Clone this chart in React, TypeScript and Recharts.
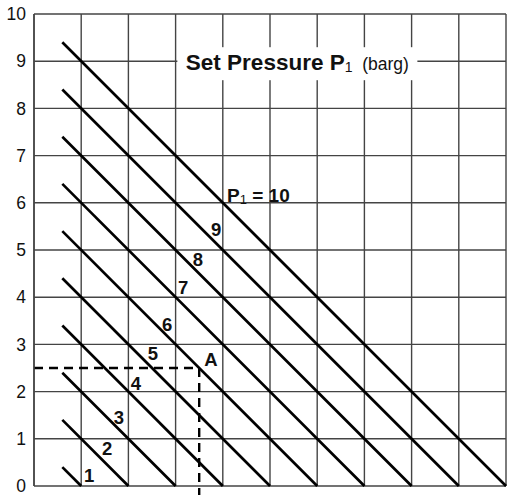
import {
  CartesianGrid,
  ComposedChart,
  Line,
  ReferenceLine,
  Scatter,
  XAxis,
  YAxis
} from "recharts";

const gridTicks = [0, 1, 2, 3, 4, 5, 6, 7, 8, 9, 10];
const pressures = [1, 2, 3, 4, 5, 6, 7, 8, 9, 10];
const lineStartX = 0.6;
const lineStartY = [0.4, 1.4, 2.4, 3.4, 4.4, 5.4, 6.4, 7.4, 8.4, 9.4];
const lineEndX = [1, 2, 3, 4, 5, 6, 7, 8, 9, 10];

const labelText = ["1", "2", "3", "4", "5", "6", "7", "8", "9"];
const labelX = [1.17, 1.55, 1.8, 2.16, 2.52, 2.82, 3.16, 3.47, 3.86];
const labelY = [0.23, 0.8, 1.45, 2.18, 2.81, 3.43, 4.2, 4.8, 5.44];

const pointA = { x: 3.5, y: 2.5 };
const pointALabel = { x: 3.75, y: 2.68 };
const topLabel = { x: 4.09, y: 6.16 };
const title = { x: 5.58, y: 9.0 };
const dashBottom = -0.2;

const ink = "#111";
const gridColor = "#444";

const curveLabels = labelText.map((text, i) => ({ x: labelX[i], y: labelY[i], text }));

function NumberLabel(props: any) {
  const { cx, cy, payload } = props;
  return (
    <text x={cx} y={cy + 6.5} fill={ink} fontSize={18.5} fontWeight="bold" textAnchor="middle">
      {payload.text}
    </text>
  );
}

function TopLabel(props: any) {
  const { cx, cy } = props;
  return (
    <text x={cx} y={cy + 6.5} fill={ink} fontSize={19} fontWeight="bold">
      <tspan>P</tspan>
      <tspan fontSize={13} fontWeight="normal" dy={2}>1</tspan>
      <tspan dy={-2}> = 10</tspan>
    </text>
  );
}

function TitleLabel(props: any) {
  const { cx, cy } = props;
  return (
    <g>
      <rect x={cx - 120} y={cy - 14} width={240} height={33} fill="#fff" />
      <text x={cx} y={cy + 8.5} fill={ink} textAnchor="middle">
        <tspan fontSize={22.5} fontWeight="bold">Set Pressure P</tspan>
        <tspan fontSize={14} dy={2}>1</tspan>
        <tspan fontSize={17.5} dy={-2}>{"\u00a0\u00a0(barg)"}</tspan>
      </text>
    </g>
  );
}

function ALabel(props: any) {
  const { cx, cy } = props;
  return (
    <text x={cx} y={cy + 6.5} fill={ink} fontSize={18.5} fontWeight="bold" textAnchor="middle">
      A
    </text>
  );
}

export default function App() {
  return (
    <div style={{ position: "absolute", left: 0, top: 0, fontFamily: "'Liberation Sans', Arial, sans-serif" }}>
      <ComposedChart width={509} height={495} margin={{ top: 14, right: 3, bottom: 9, left: 0 }}>
        <CartesianGrid stroke={gridColor} strokeWidth={1.4} vertical={false} />
        <XAxis
          dataKey="x"
          type="number"
          domain={[0, 10]}
          ticks={gridTicks}
          interval={0}
          tick={false}
          tickLine={false}
          height={0}
          stroke={gridColor}
          strokeWidth={1.5}
        />
        <YAxis
          type="number"
          domain={[0, 10]}
          ticks={gridTicks}
          interval={0}
          width={34}
          tickLine={false}
          stroke={gridColor}
          strokeWidth={1.5}
          fontSize={17.5}
          tick={{ fill: ink, fontSize: 17.5 }}
        />
        {gridTicks.map((v) => (
          <ReferenceLine key={`v${v}`} x={v} stroke={gridColor} strokeWidth={1.4} />
        ))}
        {pressures.map((p, i) => (
          <Line
            key={p}
            data={[
              { x: lineStartX, y: lineStartY[i] },
              { x: lineEndX[i], y: 0 }
            ]}
            dataKey="y"
            stroke="#000"
            strokeWidth={2.7}
            dot={false}
            activeDot={false}
            isAnimationActive={false}
          />
        ))}
        <ReferenceLine
          segment={[{ x: 0, y: pointA.y }, pointA]}
          stroke="#000"
          strokeWidth={2.4}
          strokeDasharray="9 6"
          ifOverflow="visible"
        />
        <ReferenceLine
          segment={[pointA, { x: pointA.x, y: dashBottom }]}
          stroke="#000"
          strokeWidth={2.4}
          strokeDasharray="9 6"
          ifOverflow="visible"
        />
        <Scatter data={curveLabels} dataKey="y" shape={NumberLabel} isAnimationActive={false} />
        <Scatter data={[pointALabel]} dataKey="y" shape={ALabel} isAnimationActive={false} />
        <Scatter data={[topLabel]} dataKey="y" shape={TopLabel} isAnimationActive={false} />
        <Scatter data={[title]} dataKey="y" shape={TitleLabel} isAnimationActive={false} />
      </ComposedChart>
    </div>
  );
}
